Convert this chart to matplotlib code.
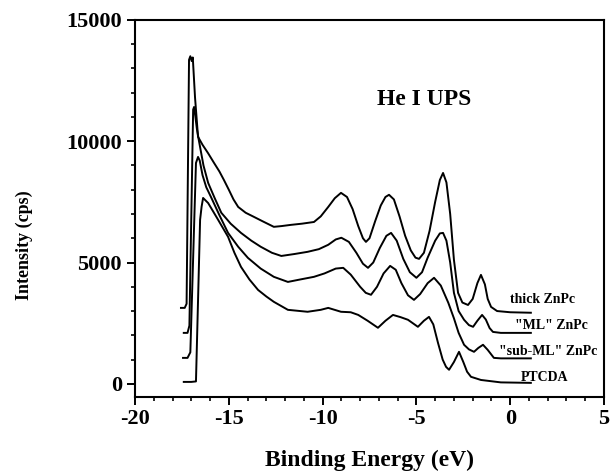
import matplotlib
matplotlib.use("Agg")
import matplotlib.pyplot as plt
from matplotlib.ticker import MultipleLocator

# ---- data ----
thick_E = [-17.55, -17.35, -17.25, -17.12, -17.05, -16.98, -16.92, -16.8, -16.64, -16.4, -16.1, -15.8, -15.5,
           -15.26, -15.0, -14.75, -14.5, -14.1, -13.66, -13.2, -12.6, -12.2, -11.7, -11.1, -10.46, -10.1,
           -9.7, -9.35, -9.02, -8.7, -8.4, -8.1, -7.85, -7.69, -7.5, -7.2, -6.9, -6.65, -6.46, -6.2, -5.9,
           -5.6, -5.3, -5.05, -4.86, -4.6, -4.3, -4.0, -3.75, -3.58, -3.4, -3.2, -3.0, -2.78, -2.55, -2.25,
           -2.0, -1.75, -1.56, -1.35, -1.2, -1.02, -0.7, 0.0, 1.1]
thick_I = [3130, 3130, 3300, 13350, 13500, 13300, 13450, 11800, 10180, 9850, 9500, 9120, 8750,
           8400, 8000, 7600, 7290, 7050, 6880, 6700, 6470, 6500, 6550, 6600, 6670, 6900,
           7290, 7650, 7870, 7700, 7200, 6500, 6000, 5850, 6000, 6700, 7350, 7700, 7790, 7600, 6900,
           6100, 5500, 5200, 5150, 5400, 6300, 7500, 8400, 8690, 8300, 7000, 5110, 3750, 3350, 3250,
           3500, 4150, 4490, 4100, 3500, 3170, 3000, 2950, 2930]

ml_E = [-17.4, -17.2, -17.1, -16.9, -16.85, -16.78, -16.7, -16.6, -16.35, -16.1, -15.75, -15.4, -14.9,
        -14.35, -13.8, -13.3, -12.7, -12.2, -11.5, -10.8, -10.2, -9.7, -9.3, -9.0, -8.6, -8.2, -7.85,
        -7.58, -7.3, -6.95, -6.6, -6.35, -6.05, -5.7, -5.35, -5.0, -4.7, -4.4, -4.0, -3.75, -3.58, -3.4,
        -3.2, -3.0, -2.75, -2.46, -2.2, -1.98, -1.75, -1.5, -1.3, -1.1, -0.92, -0.5, 1.1]
ml_I = [2100, 2100, 2400, 11300, 11410, 11000, 10500, 10050, 9000, 8280, 7650, 7050, 6600,
        6220, 5900, 5650, 5400, 5270, 5350, 5440, 5550, 5730, 5950, 6020, 5850, 5400, 4950,
        4780, 5000, 5600, 6100, 6220, 5900, 5150, 4600, 4370, 4600, 5200, 5900, 6200, 6220, 5900,
        5000, 3750, 3000, 2640, 2420, 2350, 2600, 2840, 2650, 2300, 2140, 2100, 2100]

sub_E = [-17.44, -17.2, -17.05, -16.75, -16.64, -16.55, -16.4, -16.2, -15.95, -15.5, -15.04, -14.5,
         -13.98, -13.3, -12.6, -11.85, -11.2, -10.46, -9.9, -9.3, -8.9, -8.5, -8.0, -7.7, -7.42, -7.1,
         -6.75, -6.4, -6.1, -5.8, -5.45, -5.13, -4.8, -4.4, -4.06, -3.7, -3.3, -3.0, -2.75, -2.46, -2.2,
         -1.93, -1.7, -1.45, -1.2, -0.87, -0.5, 1.1]
sub_I = [1070, 1070, 1300, 9100, 9350, 9200, 8600, 8100, 7700, 6950, 6220, 5650,
         5190, 4750, 4410, 4200, 4300, 4410, 4550, 4750, 4780, 4500, 4000, 3750, 3670, 4000,
         4550, 4860, 4700, 4150, 3650, 3460, 3700, 4150, 4370, 4050, 3340, 2700, 2100, 1610, 1420,
         1320, 1480, 1610, 1400, 1070, 1050, 1050]

ptcda_E = [-17.4, -17.0, -16.75, -16.53, -16.45, -16.37, -16.1, -15.6, -15.04, -14.7, -14.35, -13.9,
           -13.44, -13.0, -12.6, -11.85, -10.8, -10.1, -9.7, -9.02, -8.5, -8.1, -7.6, -7.05, -6.65,
           -6.25, -5.85, -5.45, -4.92, -4.6, -4.33, -4.1, -3.85, -3.6, -3.42, -3.26, -3.0, -2.73, -2.5,
           -2.3, -2.09, -1.56, -0.5, 1.1]
ptcda_I = [80, 80, 100, 6760, 7300, 7660, 7450, 6800, 6060, 5400, 4820, 4300,
           3870, 3600, 3380, 3050, 2970, 3050, 3130, 2970, 2950, 2840, 2600, 2310, 2600,
           2840, 2750, 2640, 2350, 2600, 2760, 2450, 1690, 1000, 700, 580, 900, 1320, 900,
           500, 290, 160, 60, 40]

series_labels = ['thick ZnPc', '"ML" ZnPc', '"sub-ML" ZnPc', 'PTCDA']
label_E = [1.7, 2.2, 2.0, 1.85]
label_I = [3460, 2390, 1320, 250]

x_ticks = [-20, -15, -10, -5, 0, 5]
y_ticks = [0, 5000, 10000, 15000]

# ---- figure ----
plt.rcParams['font.family'] = ['Liberation Serif', 'DejaVu Serif']
plt.rcParams['font.weight'] = 'bold'
plt.rcParams['axes.unicode_minus'] = False

fig = plt.figure(figsize=(6.1, 4.72), dpi=100)
ax = fig.add_axes([0.2213, 0.159, 0.7689, 0.799])

for E, I in [(thick_E, thick_I), (ml_E, ml_I), (sub_E, sub_I), (ptcda_E, ptcda_I)]:
    ax.plot(E, I, color='black', lw=1.4)

for t, e, i in zip(series_labels, label_E, label_I):
    ax.text(e, i, t, ha='center', va='center', fontsize=10, fontweight='bold')

ax.text(-4.6, 11700, 'He I UPS', ha='center', va='center', fontsize=17, fontweight='bold')

ax.set_xlim(-20, 5)
ax.set_ylim(-540, 15000)
ax.set_xticks(x_ticks)
ax.set_yticks(y_ticks)
ax.xaxis.set_minor_locator(MultipleLocator(1))
ax.yaxis.set_minor_locator(MultipleLocator(1000))
ax.tick_params(which='major', direction='out', length=5.5, width=1.4, labelsize=16, pad=3)
ax.tick_params(which='minor', direction='out', length=3, width=1.2)
ax.tick_params(axis='y', which='major', pad=4)
for lab in ax.get_xticklabels() + ax.get_yticklabels():
    lab.set_fontweight('bold')
for s in ax.spines.values():
    s.set_linewidth(1.5)

ax.set_xlabel('Binding Energy (eV)', fontsize=17, fontweight='bold')
ax.set_ylabel('Intensity (cps)', fontsize=13, fontweight='bold')
ax.xaxis.set_label_coords(0.5, -0.167)
ax.xaxis.label.set_va('center')
ax.yaxis.set_label_coords(-0.235, 0.403)
ax.yaxis.label.set_va('center')

fig.savefig('out.png', dpi=100)
